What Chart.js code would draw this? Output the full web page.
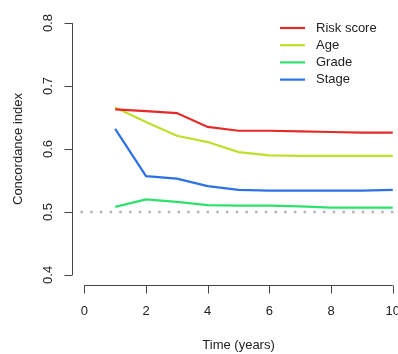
<!DOCTYPE html>
<html>
<head>
<meta charset="utf-8">
<script src="https://cdn.jsdelivr.net/npm/chart.js@4/dist/chart.umd.min.js"></script>
<style>
  html, body { margin: 0; padding: 0; background: #fff; }
  canvas { display: block; }
</style>
</head>
<body>
<canvas id="c" width="398" height="354"></canvas>
<script>
// Time-dependent concordance index of each predictor
const years = [1, 2, 3, 4, 5, 6, 7, 8, 9, 10];
const riskScore = [0.663, 0.660, 0.657, 0.635, 0.629, 0.629, 0.628, 0.627, 0.626, 0.626];
const age       = [0.666, 0.643, 0.621, 0.611, 0.595, 0.590, 0.589, 0.589, 0.589, 0.589];
const grade     = [0.508, 0.520, 0.516, 0.511, 0.510, 0.510, 0.509, 0.507, 0.507, 0.507];
const stage     = [0.632, 0.557, 0.553, 0.541, 0.535, 0.534, 0.534, 0.534, 0.534, 0.535];

const seriesNames = ['Risk score', 'Age', 'Grade', 'Stage'];
const seriesColors = ['#E62A2A', '#BDE02B', '#2DE26C', '#2C72E6'];

const xTicks = [0, 2, 4, 6, 8, 10];
const yTicks = [0.4, 0.5, 0.6, 0.7, 0.8];
const referenceLevel = 0.5;
const xTitle = 'Time (years)';
const yTitle = 'Concordance index';

const FONT = '13px "Liberation Sans", Arial, Helvetica, sans-serif';
const INK = '#222';
const AXIS = '#444';

function toPoints(values) {
  return years.map((t, i) => ({ x: t, y: values[i] }));
}

const allSeries = [riskScore, age, grade, stage];

// dotted reference line at C = 0.5
const refLinePlugin = {
  id: 'refLine',
  beforeDatasetsDraw(chart) {
    const { ctx, scales: { x, y } } = chart;
    const py = y.getPixelForValue(referenceLevel);
    ctx.save();
    ctx.strokeStyle = '#b4b4b4';
    ctx.lineWidth = 2.5;
    ctx.setLineDash([2.5, 7.2]);
    ctx.beginPath();
    ctx.moveTo(x.left + 8.5, py);
    ctx.lineTo(x.right, py);
    ctx.stroke();
    ctx.restore();
  }
};

// separated axes with outward ticks, axis titles and the legend box
const axesPlugin = {
  id: 'sepAxes',
  afterDraw(chart) {
    const { ctx, scales: { x, y } } = chart;
    ctx.save();
    ctx.strokeStyle = AXIS;
    ctx.lineWidth = 1;
    ctx.fillStyle = INK;
    ctx.font = FONT;

    // y axis
    const ax = Math.round(x.left) + 0.5;
    const yTop = y.getPixelForValue(yTicks[yTicks.length - 1]);
    const yBot = y.getPixelForValue(yTicks[0]);
    ctx.beginPath();
    ctx.moveTo(ax, yTop);
    ctx.lineTo(ax, yBot);
    yTicks.forEach(v => {
      const py = Math.round(y.getPixelForValue(v)) + 0.5;
      ctx.moveTo(ax, py);
      ctx.lineTo(ax - 8, py);
    });
    ctx.stroke();
    yTicks.forEach(v => {
      const py = y.getPixelForValue(v);
      ctx.save();
      ctx.translate(ax - 24, py);
      ctx.rotate(-Math.PI / 2);
      ctx.textAlign = 'center';
      ctx.textBaseline = 'middle';
      ctx.fillText(v.toFixed(1), 0, 0);
      ctx.restore();
    });

    // x axis
    const ay = Math.round(y.bottom) + 0.5;
    const xL = x.getPixelForValue(xTicks[0]);
    const xR = x.getPixelForValue(xTicks[xTicks.length - 1]);
    ctx.beginPath();
    ctx.moveTo(xL, ay);
    ctx.lineTo(xR, ay);
    xTicks.forEach(v => {
      const px = Math.round(x.getPixelForValue(v)) + 0.5;
      ctx.moveTo(px, ay);
      ctx.lineTo(px, ay + 8);
    });
    ctx.stroke();
    ctx.textAlign = 'center';
    ctx.textBaseline = 'middle';
    xTicks.forEach(v => {
      ctx.fillText(String(v), x.getPixelForValue(v), ay + 26);
    });

    // axis titles
    ctx.fillText(xTitle, (xL + xR) / 2, ay + 60);
    ctx.save();
    ctx.translate(18, (yTop + yBot) / 2);
    ctx.rotate(-Math.PI / 2);
    ctx.fillText(yTitle, 0, 0);
    ctx.restore();

    // legend
    const lx = 280, ly = 28, step = 17.2;
    chart.data.datasets.forEach((ds, i) => {
      const py = ly + i * step;
      ctx.strokeStyle = ds.borderColor;
      ctx.lineWidth = 2.2;
      ctx.beginPath();
      ctx.moveTo(lx, py);
      ctx.lineTo(lx + 25, py);
      ctx.stroke();
      ctx.fillStyle = INK;
      ctx.textAlign = 'left';
      ctx.fillText(ds.label, lx + 36, py);
    });
    ctx.restore();
  }
};

new Chart(document.getElementById('c'), {
  type: 'line',
  data: {
    datasets: allSeries.map((vals, i) => ({
      label: seriesNames[i],
      data: toPoints(vals),
      borderColor: seriesColors[i],
      backgroundColor: seriesColors[i],
      borderWidth: 2.2,
      pointRadius: 0,
      tension: 0,
      fill: false
    }))
  },
  options: {
    responsive: false,
    devicePixelRatio: 1,
    animation: false,
    layout: { padding: { left: 72, right: 0, top: 13, bottom: 69 } },
    plugins: { legend: { display: false }, tooltip: { enabled: false } },
    scales: {
      x: { type: 'linear', min: -0.4, max: 10.17, display: false },
      y: { type: 'linear', min: 0.384, max: 0.816, display: false }
    }
  },
  plugins: [refLinePlugin, axesPlugin]
});
</script>
</body>
</html>
